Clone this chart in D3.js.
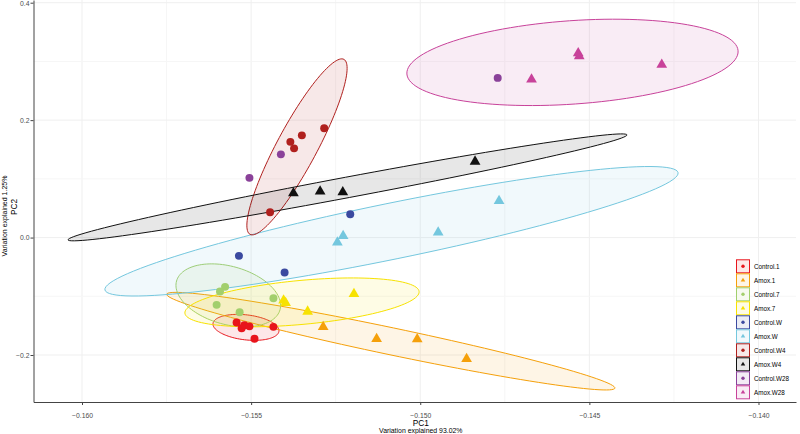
<!DOCTYPE html>
<html>
<head>
<meta charset="utf-8">
<script src="https://cdn.jsdelivr.net/npm/d3@7"></script>
<style>
  body { margin: 0; background: #fff; }
  svg { display: block; font-family: "Liberation Sans", Arial, sans-serif; }
</style>
</head>
<body>
<div id="chart-1"></div>
<script>
// PCA scores [PC1, PC2] per group
const control1 = [[-0.15543, -0.14475], [-0.15528, -0.15429], [-0.1552, -0.14952], [-0.15505, -0.15123], [-0.15434, -0.15208], [-0.1549, -0.17251]];
const amox1 = [[-0.15287, -0.15208], [-0.15129, -0.17251], [-0.15009, -0.17302], [-0.14863, -0.20657]];
const control7 = [[-0.15577, -0.08396], [-0.15592, -0.09196], [-0.15602, -0.11461], [-0.15534, -0.12738], [-0.15434, -0.1032]];
const amox7 = [[-0.15404, -0.10695], [-0.15398, -0.1112], [-0.15333, -0.12602], [-0.15196, -0.09588]];
const controlW = [[-0.15536, -0.03116], [-0.15401, -0.0596], [-0.15207, 0.03985]];
const amoxW = [[-0.15245, -0.00817], [-0.15228, 0.0029], [-0.14947, 0.00886], [-0.14767, 0.0625]];
const controlW4 = [[-0.15444, 0.04326], [-0.15384, 0.16298], [-0.15373, 0.15191], [-0.1535, 0.17405], [-0.15284, 0.18631]];
const amoxW4 = [[-0.15375, 0.07561], [-0.15296, 0.07868], [-0.15229, 0.07732], [-0.14838, 0.12943]];
const controlW28 = [[-0.15505, 0.10167], [-0.15412, 0.14169], [-0.14771, 0.27197]];
const amoxW28 = [[-0.14671, 0.26941], [-0.14533, 0.31403], [-0.1453, 0.30892], [-0.14286, 0.29445]];

const groups = ["Control.1", "Amox.1", "Control.7", "Amox.7", "Control.W", "Amox.W", "Control.W4", "Amox.W4", "Control.W28", "Amox.W28"];
const groupScores = [control1, amox1, control7, amox7, controlW, amoxW, controlW4, amoxW4, controlW28, amoxW28];
const groupColors = ["#e8141b", "#f5a00a", "#a2cf6c", "#f7e200", "#3b4aa0", "#74c7de", "#b0201e", "#111111", "#8a4199", "#c8429a"];

// confidence ellipses: centre and two half-axis vectors, in PC units
const ellipseGroups = ["Control.1", "Amox.1", "Control.7", "Amox.7", "Amox.W", "Control.W4", "Amox.W4", "Amox.W28"];
const ellipseCenters = [[-0.155152, -0.15293], [-0.150871, -0.17643], [-0.155675, -0.09843], [-0.153496, -0.11035], [-0.15085, 0.01073], [-0.153644, 0.15446], [-0.152151, 0.08549], [-0.145499, 0.29837]];
const ellipseAxisA = [[0.000975, -0.006596], [0.006626, -0.08001], [0.00153, -0.02444], [0.003462, 0.018392], [0.008472, 0.0999], [0.0013874, 0.14903], [0.008263, 0.08941], [0.004896, 0.019721]];
const ellipseAxisB = [[-0.0000431, -0.021143], [-0.0000819, -0.022502], [-0.00023, -0.047755], [0.0000597, -0.037307], [0.000166, -0.046715], [0.000521, -0.016097], [0.0000562, -0.01724], [0.000086, -0.070842]];

const xTicks = [-0.16, -0.155, -0.15, -0.145, -0.14];
const xMinor = [-0.1575, -0.1525, -0.1475, -0.1425];
const yTicks = [-0.2, 0, 0.2, 0.4];
const yMinor = [-0.1, 0.1, 0.3];

const width = 800;
const height = 434;
const margin = { top: 0, right: 4, bottom: 32, left: 33.5 };

const svg = d3
  .select("#chart-1")
  .append("svg")
  .attr("width", width)
  .attr("height", height);

const xScale = d3
  .scaleLinear()
  .domain([-0.161434, -0.138891])
  .range([margin.left, width - margin.right]);

const yScale = d3
  .scaleLinear()
  .domain([-0.28004, 0.4046])
  .range([height - margin.bottom, margin.top]);

const colorOf = d3.scaleOrdinal().domain(groups).range(groupColors);
const isControl = (g) => g.startsWith("Control");

// grid
const grid = svg.append("g");
grid
  .selectAll(".vx")
  .data(xMinor.concat(xTicks))
  .enter()
  .append("line")
  .attr("x1", (d) => xScale(d))
  .attr("x2", (d) => xScale(d))
  .attr("y1", yScale.range()[0])
  .attr("y2", yScale.range()[1])
  .attr("stroke", (d) => (xTicks.includes(d) ? "#efefef" : "#f6f6f6"))
  .attr("stroke-width", 1);
grid
  .selectAll(".hy")
  .data(yMinor.concat(yTicks))
  .enter()
  .append("line")
  .attr("x1", xScale.range()[0])
  .attr("x2", xScale.range()[1])
  .attr("y1", (d) => yScale(d))
  .attr("y2", (d) => yScale(d))
  .attr("stroke", (d) => (yTicks.includes(d) ? "#efefef" : "#f6f6f6"))
  .attr("stroke-width", 1);

// ellipses
const ellipseLine = d3
  .line()
  .x((d) => xScale(d[0]))
  .y((d) => yScale(d[1]))
  .curve(d3.curveLinearClosed);

const ellipseData = ellipseGroups.map((g, i) => {
  const c = ellipseCenters[i];
  const a = ellipseAxisA[i];
  const b = ellipseAxisB[i];
  const pts = d3.range(120).map((k) => {
    const t = (k / 120) * 2 * Math.PI;
    return [c[0] + a[0] * Math.cos(t) + b[0] * Math.sin(t), c[1] + a[1] * Math.cos(t) + b[1] * Math.sin(t)];
  });
  return { group: g, pts: pts };
});

svg
  .selectAll(".ellipse")
  .data(ellipseData)
  .enter()
  .append("path")
  .attr("class", "ellipse")
  .attr("d", (d) => ellipseLine(d.pts))
  .attr("fill", (d) => colorOf(d.group))
  .attr("fill-opacity", 0.1)
  .attr("stroke", (d) => colorOf(d.group))
  .attr("stroke-width", 1);

// points
const points = [];
groups.forEach((g, i) => groupScores[i].forEach((p) => points.push({ group: g, pc1: p[0], pc2: p[1] })));

const tri = d3.symbol(d3.symbolTriangle, 50);
svg
  .selectAll(".pt")
  .data(points)
  .enter()
  .append("path")
  .attr("class", "pt")
  .attr("transform", (d) => `translate(${xScale(d.pc1)},${yScale(d.pc2)})`)
  .attr("d", (d) => (isControl(d.group) ? d3.symbol(d3.symbolCircle, 50)() : tri()))
  .attr("fill", (d) => colorOf(d.group));

// axes
const xAxis = svg
  .append("g")
  .attr("transform", `translate(0,${yScale.range()[0]})`)
  .call(d3.axisBottom(xScale).tickValues(xTicks).tickSize(3).tickSizeOuter(0).tickFormat(d3.format(".3f")));
const yAxis = svg
  .append("g")
  .attr("transform", `translate(${xScale.range()[0]},0)`)
  .call(d3.axisLeft(yScale).tickValues(yTicks).tickSize(3).tickSizeOuter(0).tickFormat(d3.format(".1f")));

[xAxis, yAxis].forEach((ax) => {
  ax.select(".domain").attr("stroke", "#444").attr("stroke-width", 1);
  ax.selectAll(".tick line").attr("stroke", "#444");
  ax.selectAll(".tick text").attr("fill", "#4d4d4d").style("font-size", "6.8px").style("font-family", "Liberation Sans, Arial, sans-serif");
});
xAxis.selectAll(".tick text").attr("dy", null).attr("y", 16);
yAxis.selectAll(".tick text").attr("x", -4).attr("dy", "0.35em");

// axis titles
const xMid = (xScale.range()[0] + xScale.range()[1]) / 2 + 6;
svg.append("text").attr("x", xMid).attr("y", 426).attr("text-anchor", "middle").style("font-size", "8.3px").text("PC1");
svg.append("text").attr("x", xMid).attr("y", 432.5).attr("text-anchor", "middle").style("font-size", "6.9px").text("Variation explained 93.02%");
svg.append("text").attr("transform", "translate(16.5,207) rotate(-90)").attr("text-anchor", "middle").style("font-size", "8.3px").text("PC2");
svg.append("text").attr("transform", "translate(6.8,216) rotate(-90)").attr("text-anchor", "middle").style("font-size", "7px").text("Variation explained 1.25%");

// legend
const legend = svg.append("g").attr("transform", "translate(736,259.3)");
groups.forEach((g, i) => {
  const key = legend.append("g").attr("transform", `translate(0,${i * 14})`);
  key
    .append("rect")
    .attr("x", 0.5)
    .attr("y", 0.5)
    .attr("width", 13)
    .attr("height", 13)
    .attr("fill", "#fff");
  key
    .append("rect")
    .attr("x", 0.5)
    .attr("y", 0.5)
    .attr("width", 13)
    .attr("height", 13)
    .attr("fill", colorOf(g))
    .attr("fill-opacity", 0.1)
    .attr("stroke", colorOf(g))
    .attr("stroke-width", 1);
  key
    .append("path")
    .attr("transform", "translate(7,7)")
    .attr("d", isControl(g) ? d3.symbol(d3.symbolCircle, 9)() : d3.symbol(d3.symbolTriangle, 9)())
    .attr("fill", colorOf(g));
  key
    .append("text")
    .attr("x", 18)
    .attr("y", 7)
    .attr("dy", "0.35em")
    .style("font-size", "6.3px")
    .text(g);
});
</script>
</body>
</html>
